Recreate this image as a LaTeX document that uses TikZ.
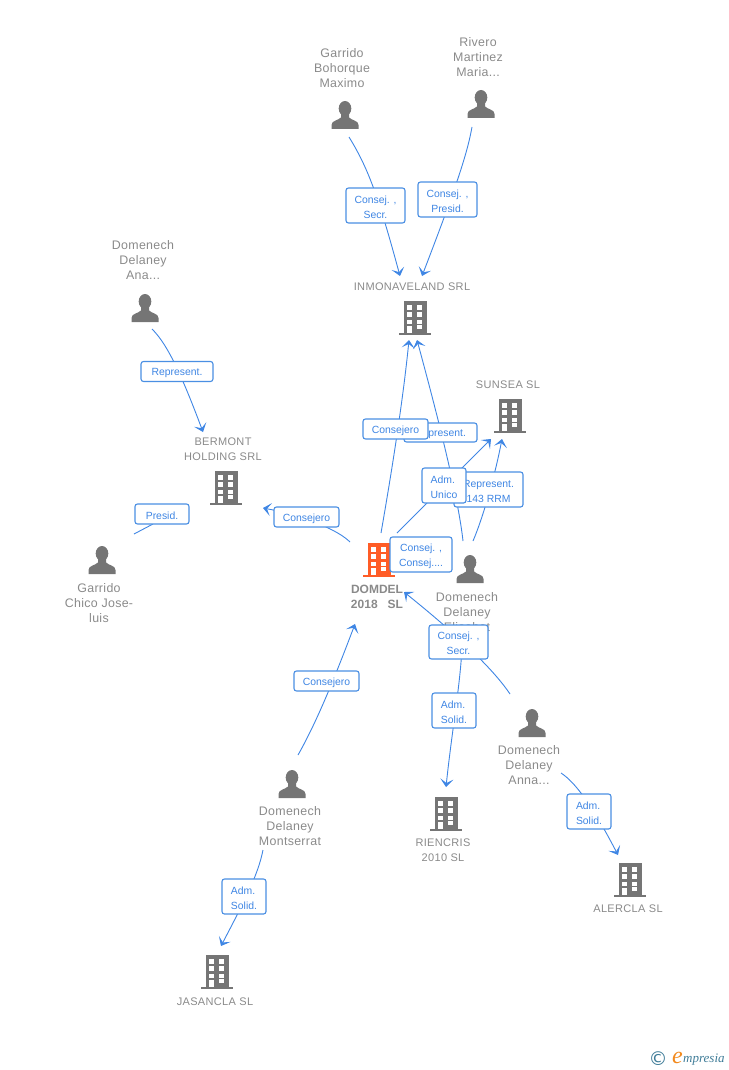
\documentclass[tikz,border=0pt]{standalone}
\usepackage{fontspec}
\setmainfont{Liberation Sans}
\newfontfamily\iconfont{DejaVu Sans}
\newfontfamily\logofont{Liberation Serif}
\usetikzlibrary{arrows.meta}
\definecolor{icongrey}{HTML}{757575}
\definecolor{textgrey}{HTML}{8A8A8A}
\definecolor{tagblue}{HTML}{4A8FE3}
\definecolor{linkblue}{HTML}{3F86E4}
\definecolor{domdelred}{HTML}{FF5C26}
\definecolor{logoteal}{HTML}{3F7C98}
\definecolor{logoorange}{HTML}{F28A1E}
\tikzset{
  iconbox/.style={minimum width=32, minimum height=34, inner sep=0},
  persontext/.style={align=center, text=textgrey, font=\fontsize{12.4}{15}\selectfont\addfontfeature{LetterSpace=2.5}},
  companytext/.style={align=center, text=textgrey, font=\fontsize{11}{15}\selectfont\addfontfeature{LetterSpace=3}},
  link/.style={draw=linkblue, line width=0.9, -{Stealth[length=8,width=13,inset=4]}},
  linkplain/.style={draw=linkblue, line width=0.9},
  tag/.style={draw=tagblue, fill=white, rounded corners=2.5, line width=1.1, inner sep=0,
    align=center, text=linkblue, font=\fontsize{10.4}{15}\selectfont,
    execute at begin node={\rule{0pt}{10.5pt}}},
  tagtwo/.style={tag, execute at begin node={\rule{0pt}{25.5pt}}},
  tagleft/.style={tagtwo, align=left}
}
\newcommand{\buildingicon}[3]{
  \node[iconbox] (#1) at (#2) {};
  \begin{scope}[shift={(#2)}]
    \fill[#3] (-11.5,-17) rectangle (11.5,15);
    \fill[#3] (-16,15) rectangle (16,17);
    \foreach \wy in {-12.7,-5.6,1.5} {
      \fill[white] (-7.7,\wy) rectangle (-2.7,\wy+4.4);
      \fill[white] (1.7,\wy) rectangle (6.7,\wy+4.4);
    }
    \fill[white] (-7.7,7.5) rectangle (-2.7,15);
    \fill[white] (1.7,7) rectangle (6.7,11.4);
  \end{scope}
}
\newcommand{\personicon}[2]{
  \node[iconbox] (#1) at (#2) {};
  \begin{scope}[shift={(#2)}]
    \fill[icongrey] (0,-6.5) ellipse (6.3 and 7.5);
    \fill[icongrey] (-13.5,14) -- (-13.5,10) .. controls (-13.5,5.5) and (-7,5.5) .. (-4,2.5)
      -- (-4,-3) -- (4,-3) -- (4,2.5) .. controls (7,5.5) and (13.5,5.5) .. (13.5,10) -- (13.5,14) -- cycle;
  \end{scope}
}

\begin{document}
\begin{tikzpicture}[x=1pt, y=-1pt]
  \useasboundingbox (0,0) rectangle (728,1070);

  %%%%% companies %%%%%
  \buildingicon{inmonaveland}{415,318}{icongrey}
  \buildingicon{sunsea}{510,416}{icongrey}
  \buildingicon{bermont}{226,488}{icongrey}
  \buildingicon{domdel}{379,560}{domdelred}
  \buildingicon{riencris}{446,814}{icongrey}
  \buildingicon{alercla}{630,880}{icongrey}
  \buildingicon{jasancla}{217,972}{icongrey}

  %%%%% people %%%%%
  \personicon{garridob}{345,115}
  \personicon{rivero}{481,104}
  \personicon{anadel}{145,308}
  \personicon{chico}{102,560}
  \personicon{elisabet}{470,569}
  \personicon{anna}{532,723}
  \personicon{montserrat}{292,784}

  %%%%% names %%%%%
  \node[persontext] (garridobtext) at (342,68) {Garrido\\Bohorque\\Maximo};
  \node[persontext] (riverotext) at (478,57) {Rivero\\Martinez\\Maria...};
  \node[persontext] (anadeltext) at (143,260) {Domenech\\Delaney\\Ana...};
  \node[persontext] (chicotext) at (99,603) {Garrido\\Chico Jose-\\luis};
  \node[persontext] (elisabettext) at (467,612) {Domenech\\Delaney\\Elisabet};
  \node[persontext] (annatext) at (529,765) {Domenech\\Delaney\\Anna...};
  \node[persontext] (montserrattext) at (290,826) {Domenech\\Delaney\\Montserrat};

  \node[companytext] (inmonavelandtext) at (412,287) {INMONAVELAND SRL};
  \node[companytext] (sunseatext) at (508,385) {SUNSEA SL};
  \node[companytext] (bermonttext) at (223,449) {BERMONT\\HOLDING SRL};
  \node[companytext, font=\fontsize{12}{15}\selectfont\bfseries] (domdeltext) at (377,596.5) {DOMDEL\\2018\ \ \ SL};
  \node[companytext] (riencristext) at (443,850.5) {RIENCRIS\\2010 SL};
  \node[companytext] (alerclatext) at (628,909) {ALERCLA SL};
  \node[companytext] (jasanclatext) at (215,1002) {JASANCLA SL};

  %%%%% links %%%%%
  \draw[link] ([shift={(4,22)}]garridob.center) .. controls (368,168) and (378,195) .. ([shift={(-15,-42)}]inmonaveland.center);
  \draw[link] ([shift={(-9,23)}]rivero.center) .. controls (467,155) and (455,190) .. ([shift={(7,-42)}]inmonaveland.center);
  \draw[link] ([shift={(7,21)}]anadel.center) .. controls (165,342) and (178,365) .. ([shift={(-23,-56)}]bermont.center);
  \draw[link] ([shift={(-29,-18)}]domdel.center) .. controls (338,530) and (305,516) .. ([shift={(37,20)}]bermont.center);
  \draw[linkplain] ([shift={(32,-26)}]chico.center) -- ([shift={(-73,36)}]bermont.center);
  \draw[link] ([shift={(2,-27)}]domdel.center) .. controls (392,470) and (403,400) .. ([shift={(-6,22)}]inmonaveland.center);
  \draw[link] ([shift={(-7,-28)}]elisabet.center) .. controls (458,495) and (436,410) .. ([shift={(2,22)}]inmonaveland.center);
  \draw[link] ([shift={(18,-27)}]domdel.center) -- ([shift={(-19,23)}]sunsea.center);
  \draw[link] ([shift={(3,-28)}]elisabet.center) .. controls (482,520) and (494,480) .. ([shift={(-8,23)}]sunsea.center);
  \draw[link] ([shift={(-22,-29)}]anna.center) .. controls (498,676) and (470,645) .. ([shift={(25,32)}]domdel.center);
  \draw[link] ([shift={(-8,76)}]elisabet.center) .. controls (461,680) and (452,730) .. ([shift={(0,-27)}]riencris.center);
  \draw[link] ([shift={(6,-29)}]montserrat.center) .. controls (315,725) and (332,685) .. ([shift={(-24,64)}]domdel.center);
  \draw[link] ([shift={(-29,66)}]montserrat.center) .. controls (258,875) and (245,900) .. ([shift={(4,-26)}]jasancla.center);
  \draw[link] ([shift={(29,50)}]anna.center) .. controls (575,782) and (592,805) .. ([shift={(-12,-25)}]alercla.center);

  %%%%% labels on the links %%%%%
  \node[tagtwo, minimum width=59, minimum height=35] (secrtag) at (375.5,205.5) {Consej. ,\\Secr.};
  \node[tagtwo, minimum width=59, minimum height=35] (presidtag) at (447.5,199.5) {Consej. ,\\Presid.};
  \node[tag, minimum width=72, minimum height=20] (anadeltag) at (177,371.5) {Represent.};
  \node[tag, minimum width=54, minimum height=20] (chicotag) at (162,514) {Presid.};
  \node[tag, minimum width=65, minimum height=20] (bermonttag) at (306.5,517) {Consejero};
  \node[tag, minimum width=73, minimum height=19] (elisabettag) at (440.5,432.5) {Represent.};
  \node[tag, minimum width=65, minimum height=20] (inmonatag) at (395.5,429) {Consejero};
  \node[tagtwo, minimum width=69, minimum height=35] (rrmtag) at (488.5,489.5) {Represent.\\143 RRM};
  \node[tagleft, minimum width=44, minimum height=35] (unicotag) at (444,485.5) {Adm.\\Unico};
  \node[tagtwo, minimum width=62, minimum height=35] (consejtag) at (421,554.5) {Consej. ,\\Consej....};
  \node[tagtwo, minimum width=59, minimum height=34] (annatag) at (458.5,642) {Consej. ,\\Secr.};
  \node[tagleft, minimum width=44, minimum height=35] (riencristag) at (454,710.5) {Adm.\\Solid.};
  \node[tagleft, minimum width=44, minimum height=35] (alerclatag) at (589,811.5) {Adm.\\Solid.};
  \node[tag, minimum width=65, minimum height=20] (montserrattag) at (326.5,681) {Consejero};
  \node[tagleft, minimum width=44, minimum height=35] (jasanclatag) at (244,896.5) {Adm.\\Solid.};

  %%%%% logo %%%%%
  \node[text=logoteal, font=\iconfont\fontsize{19}{19}\selectfont, inner sep=0] (logoc) at (658,1059) {©};
  \node[text=logoorange, font=\logofont\itshape\fontsize{24}{24}\selectfont, inner sep=0] (logoe) at (677.5,1058) {e};
  \node[text=logoteal, font=\logofont\itshape\fontsize{13}{13}\selectfont, inner sep=0, anchor=west] (logotext) at (683,1060) {mpresia};
\end{tikzpicture}
\end{document}
